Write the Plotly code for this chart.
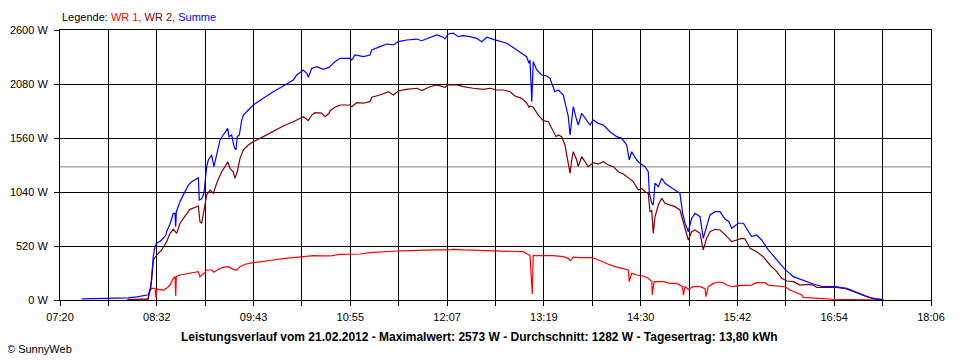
import plotly.graph_objects as go

# ---- data (time in minutes since midnight, power in W) ----
x_tick_labels = ["07:20", "08:32", "09:43", "10:55", "12:07", "13:19", "14:30", "15:42", "16:54", "18:06"]
y_tick_values = [0, 520, 1040, 1560, 2080, 2600]
y_tick_labels = ["0 W", "520 W", "1040 W", "1560 W", "2080 W", "2600 W"]
average_w = 1282

summe_t = [456.1, 470, 490.4, 496.9, 505.5, 507.3, 508.2, 509.2, 510.5, 511.7, 514.2, 515.4, 518.6, 519.1,
           521.6, 524, 525.3, 525.8, 526.3, 529, 531.4, 535.2, 537.7, 542.6, 543.3, 545.1, 545.8, 546.8,
           547.5, 548.8, 550, 552.5, 554.2, 556.2, 558.7, 561.1, 564.4, 565.3, 567.3, 569.1, 570.5, 571.5,
           573, 574.8, 576, 579.7, 583.4, 590.8, 598.2, 605.6, 613, 615.6, 620.5, 623, 624.2, 626.7, 630.4,
           635.3, 639.5, 644, 647.7, 655.1, 656.4, 658.8, 665, 669.9, 671.2, 677.3, 682.3, 687.2, 690.9,
           697.1, 704.6, 708.3, 714.4, 719.4, 724.3, 725.5, 728, 731.7, 735.4, 739.1, 744.1, 749.1, 752.8,
           756.5, 761.4, 766.3, 771.3, 775, 778.7, 782.4, 786.1, 787.8, 788.6, 789.9, 791, 793.6, 797.3,
           801, 803.4, 804.7, 807.1, 809.6, 813.3, 815.3, 817, 818.3, 819.5, 820.7, 823.2, 824.4, 826.9,
           829.4, 833.1, 835.5, 839.2, 843, 847.9, 852.9, 856.6, 860.3, 862.2, 864, 867.7, 870.2, 873.9,
           876.3, 877.1, 878.9, 880, 881.3, 883.8, 886.3, 888.7, 892.4, 897.4, 899.8, 901.8, 903.6, 906,
           908.5, 911, 914.7, 917.1, 919.6, 922.1, 925.8, 929.5, 933.2, 936.2, 938.2, 943.1, 946.8, 949.3,
           953, 956.7, 960.4, 965.3, 971.6, 977.7, 983.9, 991.3, 998.7, 1006.1, 1014.8, 1023.5, 1030.9,
           1038.3, 1043.2, 1050.6]
summe_w = [10, 12, 20, 30, 50, 110, 290, 420, 520, 545, 565, 578, 625, 660,
           730, 835, 835, 705, 850, 947, 1010, 1107, 1140, 1178, 963, 975, 995, 1030,
           1124, 1284, 1348, 1396, 1284, 1412, 1541, 1589, 1653, 1573, 1589, 1476, 1445, 1573,
           1589, 1733, 1781, 1830, 1878, 1942, 2006, 2061, 2119, 2167, 2215, 2183, 2145, 2231, 2247,
           2222, 2240, 2295, 2327, 2327, 2311, 2359, 2343, 2359, 2408, 2440, 2465, 2456, 2488,
           2504, 2513, 2497, 2530, 2552, 2530, 2515, 2562, 2570, 2536, 2546, 2536, 2520, 2488,
           2530, 2510, 2488, 2472, 2440, 2408, 2375, 2343, 2279, 2311, 1910, 2295, 2215, 2167,
           2157, 2135, 2087, 2006, 2022, 1974, 1862, 1765, 1589, 1733, 1862, 1733, 1685, 1798,
           1750, 1685, 1733, 1701, 1685, 1621, 1573, 1557, 1493, 1348, 1428, 1348, 1316, 1284,
           1235, 1027, 931, 915, 1124, 1091, 1172, 1124, 1091, 1043, 1027, 835, 739, 658,
           787, 835, 802, 594, 706, 819, 851, 851, 780, 754, 690, 739, 739, 690,
           610, 626, 578, 482, 385, 295, 225, 186, 154, 128, 128, 112, 71,
           32, 10, 5]

wr2_t = [490, 505.5, 508, 509.2, 511.7, 515.4, 519.1, 521.6, 524, 526.6, 529, 532.7, 536.4, 542.6,
         543.8, 545.1, 546.8, 548.8, 551.3, 553.7, 556.2, 559.9, 562.4, 564.4, 566.1, 568.5, 569.8,
         571.5, 573.5, 576, 579.7, 583.4, 590.8, 598.2, 605.6, 613, 620.5, 624.2, 626.7, 629.1, 634.1,
         636.5, 639.5, 640.3, 644, 647.7, 655.1, 656.4, 660.1, 665, 669.9, 671.2, 677.3, 683.5, 687.2,
         690.9, 697.1, 704.6, 708.3, 714.4, 719.4, 725.5, 728, 734.2, 739.1, 746.5, 754, 758.9, 763.9,
         768.8, 773.8, 777.5, 782.4, 786.1, 787.8, 788.6, 791, 794.7, 798.5, 802.2, 804.7, 807.9, 809.6,
         812.1, 814.5, 816.3, 818.3, 819.5, 820.7, 823.2, 824.4, 826.9, 829.4, 831.8, 835.5, 839.2, 843,
         846.7, 850.4, 854.1, 857.8, 861.5, 865.2, 868.9, 871.4, 873.9, 876.3, 877.6, 878.9, 880, 881.3,
         883.8, 886.3, 888.7, 892.4, 896.1, 899.8, 901.8, 903.6, 906, 908.5, 911, 914.7, 917.1, 919.6,
         922.1, 925.8, 929.5, 933.2, 936.2, 938.2, 941.9, 945.6, 948, 951.8, 956.7, 961.6, 966.6, 971.6,
         975.3, 979, 983.9, 988.8, 995, 998.7, 1001.2, 1008.6, 1016.1, 1023.5, 1030.9, 1038.3, 1045.7,
         1050.6]
wr2_w = [5, 10, 193, 385, 433, 482, 562, 642, 681, 642, 739, 802, 873, 905,
         754, 739, 851, 1011, 1059, 1027, 1124, 1235, 1284, 1332, 1268, 1235, 1172,
         1235, 1364, 1445, 1493, 1525, 1573, 1627, 1676, 1717, 1765, 1727, 1781, 1804, 1800,
         1765, 1798, 1823, 1856, 1878, 1878, 1862, 1900, 1895, 1910, 1952, 1974, 2006, 1974,
         2013, 2029, 2039, 2016, 2054, 2071, 2048, 2071, 2071, 2054, 2039, 2029, 2039, 2022,
         2022, 2006, 1965, 1942, 1900, 1856, 1868, 1856, 1781, 1727, 1717, 1653, 1573, 1589,
         1573, 1493, 1380, 1220, 1348, 1428, 1348, 1284, 1380, 1332, 1284, 1322, 1309, 1332,
         1300, 1284, 1235, 1213, 1172, 1140, 1059, 1075, 1043, 1027, 851, 860, 642, 802,
         915, 979, 931, 915, 899, 867, 770, 706, 578, 658, 674, 642, 482, 594,
         658, 681, 674, 630, 594, 562, 578, 594, 590, 498, 465, 417, 337, 273,
         209, 183, 177, 144, 151, 144, 122, 122, 122, 106, 71, 32, 10,
         5]

wr1_t = [490, 505, 505.5, 506.8, 508, 510.5, 511.2, 511.9, 512.9, 516.6, 519.1, 521.6, 524, 525.3,
         525.8, 526.3, 529, 535.2, 542.6, 543.8, 546.8, 548.8, 552.5, 554.2, 557.4, 561.1, 564.8, 568.5,
         571.1, 573.5, 577.2, 583.4, 590.8, 598.2, 605.6, 613, 620.5, 627.9, 635.3, 640.3, 647.7, 655.1,
         662.5, 669.9, 679.8, 689.7, 699.6, 709.5, 719.4, 729.3, 731.7, 739.1, 749.1, 758.9, 768.8, 776.2,
         783.6, 787.8, 788.6, 790.3, 791, 798.5, 805.9, 813.3, 817, 818.3, 820.7, 825.7, 834.4, 838.1,
         841.8, 846.7, 851.6, 857.8, 861.5, 862.2, 864, 867.7, 872.6, 876.3, 878.9, 879.3, 880.6, 882.6,
         887.5, 892.4, 897.4, 901.8, 902.3, 903.6, 906, 909.7, 914.7, 918.4, 919.1, 920.8, 924.5, 928.3,
         932, 934.5, 938.2, 943.1, 949.3, 953, 956.7, 962.9, 965.3, 972.8, 977.7, 981.4, 986.4, 990.1,
         991.3, 1008.6, 1013.5, 1050.6]
wr1_w = [0, 5, 32, 96, 112, 112, 20, 110, 103, 96, 112, 144, 209, 225,
         38, 228, 241, 257, 273, 225, 257, 289, 289, 267, 295, 315, 321, 295,
         289, 321, 344, 360, 376, 385, 398, 408, 417, 427, 424, 424, 440, 443,
         443, 456, 465, 472, 475, 482, 482, 482, 488, 482, 478, 475, 475, 465,
         465, 433, 427, 58, 427, 427, 427, 417, 401, 379, 412, 408, 408, 392,
         369, 344, 321, 305, 289, 177, 257, 241, 231, 209, 177, 48, 177, 177,
         177, 160, 160, 128, 48, 128, 103, 128, 128, 110, 32, 128, 160, 173,
         165, 144, 128, 138, 138, 144, 167, 167, 144, 135, 128, 96, 64, 48,
         26, 16, 7, 0]

# ---- figure ----
x0, x1 = 440, 1086
n = len(x_tick_labels) - 1
step = (x1 - x0) / n
x_tickvals = [x0 + i * step / 2 for i in range(2 * n + 1)]
x_ticktext = [x_tick_labels[i // 2] if i % 2 == 0 else "" for i in range(2 * n + 1)]

FONT = "Liberation Sans, Arial, sans-serif"

fig = go.Figure()
fig.add_trace(go.Scatter(x=wr1_t, y=wr1_w, mode="lines", name="WR 1",
                         line=dict(color="#FF0000", width=1.2)))
fig.add_trace(go.Scatter(x=wr2_t, y=wr2_w, mode="lines", name="WR 2",
                         line=dict(color="#800000", width=1.2)))
fig.add_trace(go.Scatter(x=summe_t, y=summe_w, mode="lines", name="Summe",
                         line=dict(color="#0000FF", width=1.2)))

fig.add_shape(type="line", xref="paper", x0=0, x1=1, yref="y", y0=average_w, y1=average_w,
              line=dict(color="#808080", width=1), layer="below")

# the page body adds an 8px offset, so the figure is sized 952x352
fig.update_layout(
    width=952, height=352,
    margin=dict(l=52, r=29, t=22, b=60),
    paper_bgcolor="white", plot_bgcolor="white",
    showlegend=False,
    font=dict(family=FONT, size=11, color="black"),
    xaxis=dict(range=[x0, x1], tickmode="array", tickvals=x_tickvals, ticktext=x_ticktext,
               showgrid=True, gridcolor="black", gridwidth=1, zeroline=False, automargin=False,
               showline=True, linecolor="black", linewidth=1, mirror=True,
               ticks="outside", ticklen=5, tickcolor="black", tickwidth=1, ticklabelstandoff=2,
               tickfont=dict(family=FONT, size=11, color="black"), fixedrange=True),
    yaxis=dict(range=[0, 2600], tickmode="array", tickvals=y_tick_values, ticktext=y_tick_labels,
               showgrid=True, gridcolor="black", gridwidth=1, zeroline=False, automargin=False,
               showline=True, linecolor="black", linewidth=1, mirror=True,
               ticks="outside", ticklen=5, tickcolor="black", tickwidth=1, ticklabelstandoff=4,
               tickfont=dict(family=FONT, size=11, color="black"), fixedrange=True),
)

fig.add_annotation(
    xref="paper", yref="paper", x=0.0, y=1.048, xanchor="left", yanchor="middle", showarrow=False,
    text="Legende: <span style='color:#FF0000'>WR 1, </span><span style='color:#800000'>WR 2, </span>"
         "<span style='color:#0000FF'>Summe</span>",
    font=dict(family=FONT, size=11, color="black"))
fig.add_annotation(
    xref="paper", yref="paper", x=0.482, y=-0.137, xanchor="center", yanchor="middle", showarrow=False,
    text="<b>Leistungsverlauf vom 21.02.2012 - Maximalwert: 2573 W - Durchschnitt: 1282 W - Tagesertrag: 13,80 kWh</b>",
    font=dict(family=FONT, size=12, color="black"))
fig.add_annotation(
    xref="paper", yref="paper", x=-0.0631, y=-0.1815, xanchor="left", yanchor="middle", showarrow=False,
    text="© SunnyWeb", font=dict(family=FONT, size=11, color="black"))

fig.write_html("out.html")
